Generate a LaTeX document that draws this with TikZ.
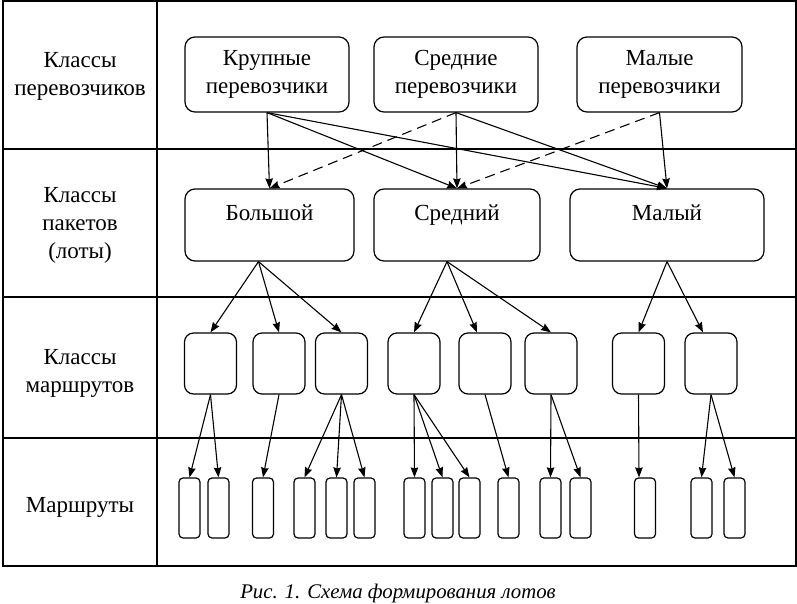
\documentclass[tikz,border=0pt]{standalone}
\usepackage{fontspec}
\setmainfont{Liberation Serif}
\usetikzlibrary{arrows.meta}

\tikzset{
  carrier/.style={draw, rounded corners=10pt, line width=1.2pt, minimum width=164pt, minimum height=75pt, align=center},
  lot/.style={draw, rounded corners=10pt, line width=1.2pt, minimum height=72pt, inner ysep=0pt, text height=31pt, text depth=41pt},
  rclass/.style={draw, rounded corners=9pt, line width=1.2pt, minimum width=52pt, minimum height=61pt},
  route/.style={draw, rounded corners=4pt, line width=1.2pt, minimum width=21pt, minimum height=60pt},
  rowlabel/.style={align=center},
}

\begin{document}
\begin{tikzpicture}[x=1pt, y=-1pt, line width=1.1pt, font=\fontsize{23}{28}\selectfont, >={Stealth[length=10pt, width=7.5pt, inset=1pt]}]
		\useasboundingbox (0,0) rectangle (797,604);
		% table
		\draw (3,1) rectangle (796,566);
		\draw[line width=2pt] (3,1) -- (3,566);
		\draw (157,1) -- (157,566);
		\foreach \y in {149, 297, 438} \draw (3,\y) -- (796,\y);
		% row captions
		\node[rowlabel] (lab1) at (80,76) {Классы\\перевозчиков};
		\node[rowlabel] (lab2) at (80,225) {Классы\\пакетов\\(лоты)};
		\node[rowlabel] (lab3) at (80,373) {Классы\\маршрутов};
		\node[rowlabel] (lab4) at (80,507) {Маршруты};
		% carriers
		\node[carrier] (kr) at (267,74.5) {Крупные\\перевозчики};
		\node[carrier] (sr) at (456,74.5) {Средние\\перевозчики};
		\node[carrier, minimum width=165pt] (ml) at (659.5,74.5) {Малые\\перевозчики};
		% lots
		\node[lot, minimum width=169pt] (bol) at (269.5,225) {Большой};
		\node[lot, minimum width=166pt] (sred) at (457,225) {Средний};
		\node[lot, minimum width=194pt] (mal) at (667,225) {Малый};
		% route classes
		\foreach \n/\x in {1/210.5, 2/279, 3/341.5, 4/414, 5/485, 6/551, 7/638.5, 8/711}
			\node[rclass] (m\n) at (\x,363.5) {};
		% routes
		\foreach \n/\x in {1/189.5, 2/218.5, 3/263, 4/304.5, 5/336.5, 6/364.5, 7/414.5, 8/442.5, 9/469.5, 10/508.5, 11/550.5, 12/580.5, 13/645, 14/701.5, 15/734.5}
			\node[route] (r\n) at (\x,508) {};
		% carriers -> lots
		\foreach \a/\b in {kr/bol, kr/sred, kr/mal, sr/sred, sr/mal, ml/mal}
			\draw[->] (\a.south) -- (\b.north);
		\draw[->, dashed, dash pattern=on 10pt off 6pt] (sr.south) -- (bol.north);
		\draw[->, dashed, dash pattern=on 10pt off 6pt] (ml.south) -- (sred.north);
		% lots -> route classes
		\foreach \b in {m1, m2, m3}
			\draw[->] ([xshift=-11pt]bol.south) -- (\b.north);
		\draw[->] ([xshift=-10pt]sred.south) -- (m4.north);
		\draw[->] ([xshift=-10pt]sred.south) -- ([xshift=-8pt]m5.north);
		\draw[->] ([xshift=-10pt]sred.south) -- (m6.north);
		\draw[->] (mal.south) -- (m7.north);
		\draw[->] (mal.south) -- ([xshift=-8pt]m8.north);
		% route classes -> routes
		\foreach \a/\b in {m1/r1, m1/r2, m2/r3, m3/r4, m3/r5, m3/r6, m4/r7, m4/r8, m4/r9, m5/r10, m6/r11, m6/r12, m8/r14, m8/r15}
			\draw[->] (\a.south) -- (\b.north);
		\draw[->] (m7.south) -- ([xshift=-6pt]r13.north);
		% caption
		\node[font=\fontsize{20.8}{25}\selectfont\itshape] (caption) at (398,593) {Рис. 1. Схема формирования лотов};
\end{tikzpicture}
\end{document}
